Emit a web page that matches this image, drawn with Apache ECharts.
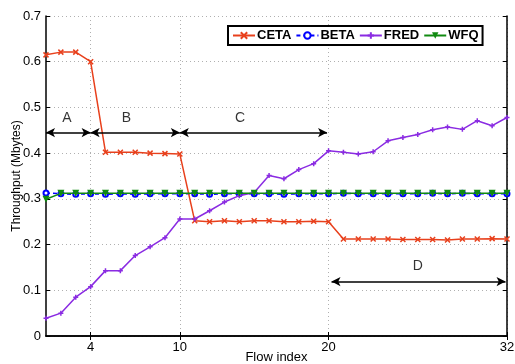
<!DOCTYPE html>
<html>
<head>
<meta charset="utf-8">
<script src="https://cdn.jsdelivr.net/npm/echarts@6/dist/echarts.min.js"></script>
<style>html,body{margin:0;padding:0;background:#fff}#c{width:515px;height:364px}</style>
</head>
<body>
<div id="c"></div>
<script>
var flows = [1,2,3,4,5,6,7,8,9,10,11,12,13,14,15,16,17,18,19,20,21,22,23,24,25,26,27,28,29,30,31,32];
var ceta = [0.615,0.621,0.621,0.600,0.402,0.402,0.402,0.400,0.399,0.398,0.252,0.250,0.252,0.250,0.252,0.252,0.250,0.250,0.251,0.250,0.212,0.212,0.212,0.212,0.211,0.211,0.211,0.210,0.212,0.212,0.213,0.212];
var beta = [0.313,0.311,0.310,0.311,0.310,0.311,0.310,0.311,0.311,0.311,0.311,0.310,0.311,0.311,0.311,0.311,0.310,0.311,0.311,0.311,0.312,0.311,0.311,0.311,0.311,0.311,0.312,0.311,0.312,0.311,0.311,0.311];
var fred = [0.039,0.050,0.085,0.108,0.143,0.143,0.176,0.195,0.215,0.256,0.256,0.274,0.293,0.307,0.314,0.351,0.344,0.364,0.377,0.405,0.402,0.398,0.403,0.427,0.434,0.441,0.451,0.457,0.452,0.471,0.460,0.478];
var wfq = [0.299,0.312,0.312,0.312,0.312,0.312,0.312,0.312,0.312,0.312,0.312,0.312,0.312,0.312,0.312,0.312,0.312,0.312,0.312,0.312,0.312,0.312,0.312,0.312,0.312,0.312,0.312,0.312,0.312,0.312,0.312,0.312];
var xTicks = [4,10,20,32];
var xGridTicks = [4,10,20];
var regionNames = ['A','B','C','D'];
var regionFrom = [1,4,10,20.2];
var regionTo = [4,10,19.9,31.9];
var regionArrowY = [0.445,0.445,0.445,0.119];
var regionLabelX = [2.4,6.4,14.05,26];
var regionLabelY = [0.476,0.476,0.476,0.153];

function pairs(ys){ return flows.map(function(x,i){return [x, ys[i]];}); }
var FONT = '"Liberation Sans", Arial, sans-serif';
var xMark = 'path://M0,0L10,10M10,0L0,10';
var plusMark = 'path://M5,0L5,10M0,5L10,5';

var chart = echarts.init(document.getElementById('c'), null, {renderer:'canvas'});
var opt = {
  animation:false,
  backgroundColor:'#fff',
  textStyle:{fontFamily:FONT},
  grid:{left:46,right:8,top:16,bottom:28,containLabel:false,outerBoundsMode:'none'},
  legend:{
    left:228, top:26, itemWidth:22, itemHeight:8, itemGap:4,
    padding:[3,4,3,4],
    borderColor:'#000', borderWidth:2, backgroundColor:'#fff',
    textStyle:{fontFamily:FONT, fontSize:13, fontWeight:'bold', color:'#000', padding:[0,0,0,-3]},
    data:['CETA','BETA','FRED','WFQ']
  },
  xAxis:[{
    type:'value', min:1, max:32,
    name:'Flow index', nameLocation:'middle', nameGap:15, nameMoveOverlap:false,
    nameTextStyle:{fontFamily:FONT, fontSize:13, color:'#000', verticalAlign:'top'},
    axisLine:{show:true, lineStyle:{color:'#000', width:1.5}},
    axisTick:{show:true, inside:true, length:4, customValues:xTicks, lineStyle:{color:'#000'}},
    axisLabel:{customValues:xTicks, fontFamily:FONT, fontSize:13, color:'#000', margin:5},
    splitLine:{show:true, customValues:xGridTicks, lineStyle:{color:'#b0b0b0', type:[1,3], width:1}}
  },{
    type:'value', min:1, max:32, position:'top',
    axisLine:{show:true, lineStyle:{color:'#000', width:1.5}},
    axisTick:{show:true, inside:true, length:4, customValues:xTicks, lineStyle:{color:'#000'}},
    axisLabel:{show:false}, splitLine:{show:false}
  }],
  yAxis:[{
    type:'value', min:0, max:0.7, interval:0.1,
    name:'Throughput (Mbytes)', nameLocation:'middle', nameGap:23, nameRotate:90, nameMoveOverlap:false,
    nameTextStyle:{fontFamily:FONT, fontSize:12, color:'#000', verticalAlign:'bottom'},
    axisLine:{show:true, lineStyle:{color:'#000', width:1.5}},
    axisTick:{show:true, inside:true, length:4, lineStyle:{color:'#000'}},
    axisLabel:{fontFamily:FONT, fontSize:13, color:'#000', margin:5,
      formatter:function(v){ return v===0 ? '0' : v.toFixed(1); }},
    splitLine:{show:true, lineStyle:{color:'#b0b0b0', type:[1,3], width:1}}
  },{
    type:'value', min:0, max:0.7, interval:0.1, position:'right',
    axisLine:{show:true, lineStyle:{color:'#000', width:1.5}},
    axisTick:{show:true, inside:true, length:4, lineStyle:{color:'#000'}},
    axisLabel:{show:false}, splitLine:{show:false}
  }],
  series:[
    {name:'CETA', type:'line', data:pairs(ceta), color:'#e8401c',
     symbol:xMark, symbolSize:5, showAllSymbol:true,
     lineStyle:{width:1.5, color:'#e8401c'},
     itemStyle:{color:'#e8401c', borderColor:'#e8401c', borderWidth:1.5}, z:4},
    {name:'BETA', type:'line', data:pairs(beta), color:'#0000ff',
     symbol:'emptyCircle', symbolSize:5, showAllSymbol:true,
     lineStyle:{width:1.5, color:'#0000ff', type:[4,3]},
     itemStyle:{color:'#0000ff', borderColor:'#0000ff', borderWidth:1.5}, z:3},
    {name:'FRED', type:'line', data:pairs(fred), color:'#8a2be2',
     symbol:plusMark, symbolSize:5, showAllSymbol:true,
     lineStyle:{width:1.5, color:'#8a2be2'},
     itemStyle:{color:'#8a2be2', borderColor:'#8a2be2', borderWidth:1.5}, z:4},
    {name:'WFQ', type:'line', data:pairs(wfq), color:'#108a10',
     symbol:'triangle', symbolRotate:180, symbolSize:7, showAllSymbol:true,
     lineStyle:{width:1.5, color:'#108a10'},
     itemStyle:{color:'#108a10'}, z:4},
    {name:'regions', type:'scatter', symbolSize:0, silent:true,
     data:regionNames.map(function(n,i){return {value:[regionLabelX[i], regionLabelY[i]], name:n};}),
     label:{show:true, position:'inside', formatter:'{b}', fontFamily:FONT, fontSize:14, color:'#000'},
     markLine:{silent:true, symbol:['arrow','arrow'], symbolSize:[7,9],
       lineStyle:{color:'#000', width:1.5, type:'solid'}, label:{show:false},
       data:regionNames.map(function(n,i){return [{coord:[regionFrom[i], regionArrowY[i]]},{coord:[regionTo[i], regionArrowY[i]]}];})},
     z:5}
  ]
};
chart.setOption(opt);
</script>
</body>
</html>
